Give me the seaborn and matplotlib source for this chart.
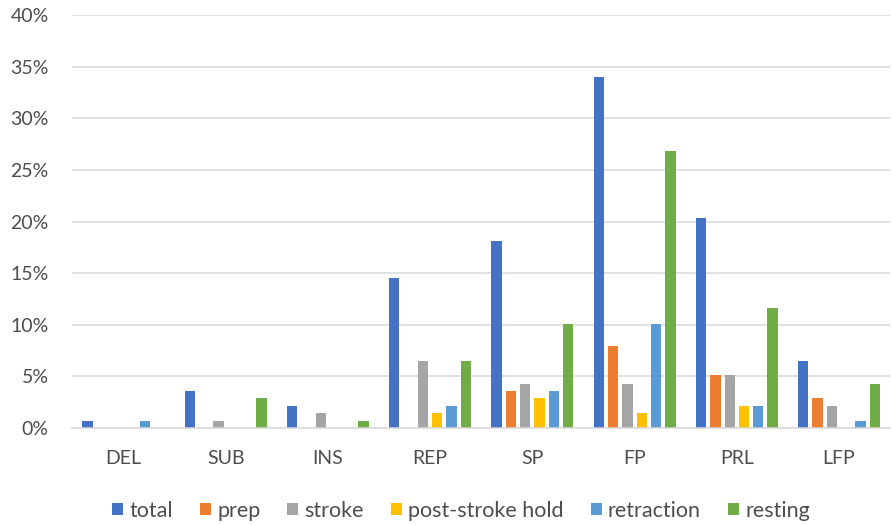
import matplotlib
matplotlib.use("Agg")
import matplotlib.pyplot as plt
from matplotlib.ticker import PercentFormatter
import seaborn as sns
import pandas as pd

# Categories and series (percent)
categories = ["DEL", "SUB", "INS", "REP", "SP", "FP", "PRL", "LFP"]
series_names = ["total", "prep", "stroke", "post-stroke hold", "retraction", "resting"]
total = [0.7, 3.6, 2.1, 14.5, 18.1, 34.0, 20.3, 6.5]
prep = [0.0, 0.0, 0.0, 0.0, 3.6, 7.9, 5.1, 2.9]
stroke = [0.0, 0.7, 1.4, 6.5, 4.3, 4.3, 5.1, 2.1]
post_stroke_hold = [0.0, 0.0, 0.0, 1.4, 2.9, 1.4, 2.1, 0.0]
retraction = [0.7, 0.0, 0.0, 2.1, 3.6, 10.1, 2.1, 0.7]
resting = [0.0, 2.9, 0.7, 6.5, 10.1, 26.8, 11.6, 4.3]
y_ticks = [0, 5, 10, 15, 20, 25, 30, 35, 40]

colors = ["#4472C4", "#ED7D31", "#A5A5A5", "#FFC000", "#5B9BD5", "#70AD47"]

values = [total, prep, stroke, post_stroke_hold, retraction, resting]
rows = []
for name, vals in zip(series_names, values):
    for cat, v in zip(categories, vals):
        rows.append({"category": cat, "series": name, "value": v})
df = pd.DataFrame(rows)

sns.set_style("white")
plt.rcParams["font.family"] = ["Lato", "DejaVu Sans"]
text_color = "#4D4D4D"
grid_color = "#D9D9D9"

fig = plt.figure(figsize=(8.92, 5.25), dpi=100)
ax = fig.add_axes([0.081, 0.185, 0.917, 0.786])

sns.barplot(data=df, x="category", y="value", hue="series",
            order=categories, hue_order=series_names,
            palette=colors, saturation=1, width=0.84, gap=0.28,
            linewidth=0, ax=ax, legend=True)

ax.set_ylim(0, 40)
ax.set_yticks(y_ticks)
ax.yaxis.set_major_formatter(PercentFormatter(decimals=0))
ax.set_xlim(-0.5, len(categories) - 0.5)
ax.grid(axis="y", color=grid_color, linewidth=1.1)
ax.set_axisbelow(True)
for s in ["top", "right", "left"]:
    ax.spines[s].set_visible(False)
ax.spines["bottom"].set_color(grid_color)
ax.spines["bottom"].set_linewidth(1.1)
ax.tick_params(axis="both", length=0, colors=text_color, labelsize=14)
ax.tick_params(axis="y", pad=17)
ax.tick_params(axis="x", pad=16)
ax.set_xlabel("")
ax.set_ylabel("")

handles, labels = ax.get_legend_handles_labels()
ax.get_legend().remove()
leg = fig.legend(handles, labels, loc="center", bbox_to_anchor=(0.517, 0.027),
                 ncol=6, frameon=False, fontsize=15.5, handlelength=0.5,
                 handleheight=0.5, handletextpad=0.3, columnspacing=1.25,
                 borderpad=0, borderaxespad=0)
for t in leg.get_texts():
    t.set_color(text_color)

fig.savefig("out.png", dpi=100)
